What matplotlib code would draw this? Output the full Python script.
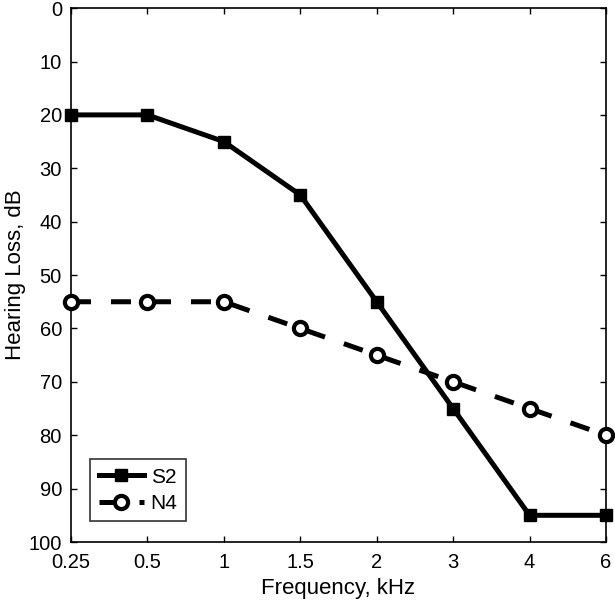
import matplotlib
matplotlib.use('Agg')
import matplotlib.pyplot as plt
import numpy as np

# Data
freq_labels = ['0.25', '0.5', '1', '1.5', '2', '3', '4', '6']
s2 = [20, 20, 25, 35, 55, 75, 95, 95]
n4 = [55, 55, 55, 60, 65, 70, 75, 80]

plt.rcParams['font.family'] = ['Liberation Sans', 'DejaVu Sans']

fig = plt.figure(figsize=(6.15, 6.06), dpi=100)
ax = fig.add_axes([0.1154, 0.1056, 0.870, 0.881])
x = np.arange(len(freq_labels))

ax.plot(x, s2, color='black', linewidth=3.6, marker='s', markersize=8,
        markerfacecolor='black', label='S2', clip_on=False, zorder=3)
ax.plot(x, n4, color='black', linewidth=3.6, linestyle=(0, (4, 4)), marker='o',
        markersize=9.5, markerfacecolor='white', markeredgewidth=3, label='N4',
        clip_on=False, zorder=3)

ax.set_xlim(0, len(freq_labels) - 1)
ax.set_ylim(100, 0)
ax.set_xticks(x)
ax.set_xticklabels(freq_labels)
ax.set_yticks(np.arange(0, 101, 10))
ax.tick_params(direction='in', length=4.5, labelsize=14.5, width=1,
               top=True, right=True)
ax.tick_params(axis='x', pad=8)
ax.tick_params(axis='y', pad=6.5)
ax.set_xlabel('Frequency, kHz', fontsize=16, labelpad=4)
ax.set_ylabel('Hearing Loss, dB', fontsize=16, labelpad=2)
for s in ax.spines.values():
    s.set_linewidth(1.2)

leg = ax.legend(loc='lower left', bbox_to_anchor=(0.036, 0.039), fontsize=15,
                frameon=True, fancybox=False, edgecolor='black', borderpad=0.4,
                handlelength=2.2, handletextpad=0.3, labelspacing=0.35,
                borderaxespad=0)
leg.get_frame().set_linewidth(1.2)

fig.savefig('out.png', dpi=100)
